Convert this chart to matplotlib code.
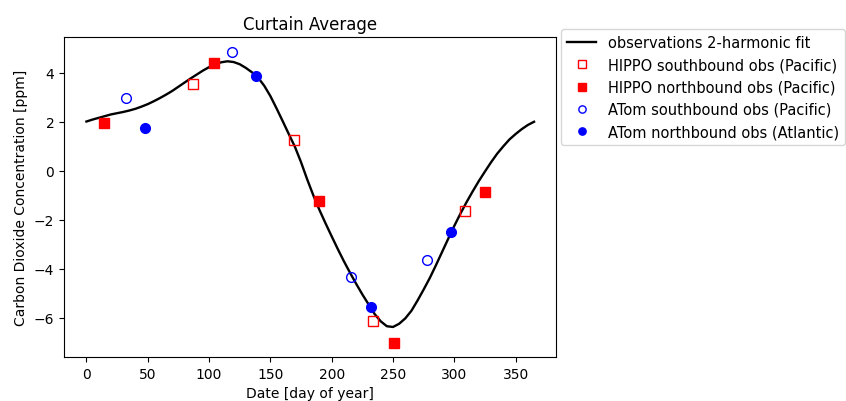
import matplotlib
matplotlib.use("Agg")
import matplotlib.pyplot as plt

# 2-harmonic fit curve, every 5 days
fit_day = list(range(0, 366, 5))
fit_co2 = [2.01, 2.09, 2.16, 2.23, 2.3, 2.35, 2.4, 2.46, 2.53, 2.62,
           2.72, 2.84, 2.97, 3.11, 3.26, 3.43, 3.6, 3.77, 3.93, 4.09,
           4.23, 4.35, 4.43, 4.47, 4.44, 4.35, 4.2, 4.02, 3.8, 3.47,
           3.05, 2.55, 2.03, 1.5, 0.98, 0.35, -0.35, -1.0, -1.6, -2.15,
           -2.68, -3.2, -3.7, -4.17, -4.62, -5.05, -5.45, -5.85, -6.15, -6.35,
           -6.38, -6.25, -6.03, -5.72, -5.3, -4.85, -4.38, -3.86, -3.32, -2.78,
           -2.25, -1.75, -1.28, -0.84, -0.42, -0.03, 0.35, 0.7, 1.0, 1.28,
           1.5, 1.7, 1.87, 2.0]

hippo_s_day = [87, 169, 234, 309]
hippo_s_co2 = [3.55, 1.27, -6.12, -1.63]
hippo_n_day = [14, 104, 190, 251, 325]
hippo_n_co2 = [1.96, 4.41, -1.22, -7.02, -0.86]
atom_s_day = [32, 119, 216, 278]
atom_s_co2 = [2.98, 4.86, -4.33, -3.63]
atom_n_day = [48, 138, 232, 297]
atom_n_co2 = [1.76, 3.88, -5.55, -2.49]

fig = plt.figure(figsize=(8.46, 4.02), dpi=100)
ax = fig.add_axes([0.0757, 0.109, 0.582, 0.796])

ax.plot(fit_day, fit_co2, color="black", lw=1.7, label="observations 2-harmonic fit")
ax.plot(hippo_s_day, hippo_s_co2, "s", color="red", mfc="none", ms=7,
        ls="none", label="HIPPO southbound obs (Pacific)")
ax.plot(hippo_n_day, hippo_n_co2, "s", color="red", ms=7,
        ls="none", label="HIPPO northbound obs (Pacific)")
ax.plot(atom_s_day, atom_s_co2, "o", color="blue", mfc="none", ms=7,
        ls="none", label="ATom southbound obs (Pacific)")
ax.plot(atom_n_day, atom_n_co2, "o", color="blue", ms=7,
        ls="none", label="ATom northbound obs (Atlantic)")

ax.set_xticks([0, 50, 100, 150, 200, 250, 300, 350])
ax.set_yticks([-6, -4, -2, 0, 2, 4])
ax.set_title("Curtain Average", fontsize=12)
ax.set_xlabel("Date [day of year]")
ax.set_ylabel("Carbon Dioxide Concentration [ppm]")
ax.legend(loc="upper left", bbox_to_anchor=(1.01, 1.025), borderaxespad=0.,
          fontsize=10.5, markerscale=0.75)

fig.savefig("out.png", dpi=100)
